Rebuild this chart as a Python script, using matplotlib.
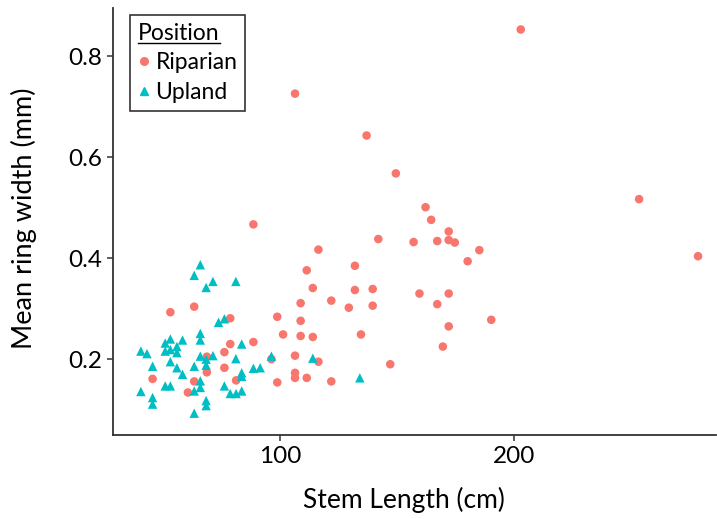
import matplotlib
matplotlib.use("Agg")
import matplotlib.pyplot as plt
from matplotlib.lines import Line2D

plt.rcParams['font.family'] = ['Lato', 'DejaVu Sans']

# Riparian stems: length (cm), mean ring width (mm)
rip_x = [202.9, 106.4, 137.0, 149.5, 253.5, 162.2, 164.6, 172.1, 172.1, 174.7,
         167.2, 157.1, 142.0, 185.2, 180.2, 278.7, 116.4, 88.6, 111.4, 132.0,
         114.0, 132.0, 139.6, 159.6, 172.1, 121.9, 108.8, 129.4, 139.6, 167.2,
         98.8, 108.8, 190.3, 172.1, 101.3, 108.8, 114.0, 134.6, 88.6, 169.6,
         106.4, 96.3, 116.4, 147.1, 106.4, 106.4, 111.4, 98.8, 121.9,
         53.1, 63.3, 78.7, 78.7, 76.2, 68.7, 76.2, 68.7, 45.5, 63.3, 81.2, 60.6]
rip_y = [0.853, 0.726, 0.643, 0.568, 0.517, 0.501, 0.476, 0.453, 0.436, 0.431,
         0.434, 0.432, 0.438, 0.416, 0.394, 0.404, 0.417, 0.467, 0.376, 0.385,
         0.341, 0.337, 0.339, 0.330, 0.330, 0.316, 0.311, 0.302, 0.306, 0.309,
         0.284, 0.276, 0.278, 0.265, 0.249, 0.246, 0.244, 0.249, 0.234, 0.225,
         0.207, 0.200, 0.195, 0.190, 0.173, 0.163, 0.163, 0.154, 0.156,
         0.293, 0.304, 0.281, 0.230, 0.214, 0.205, 0.183, 0.174, 0.161, 0.156, 0.158, 0.134]

# Upland stems
upl_x = [96.3, 114.0, 134.1, 88.6, 91.5,
         65.9, 63.3, 71.3, 68.4, 81.1, 73.7, 76.2, 65.9, 65.9, 53.1,
         50.9, 58.3, 55.9, 53.1, 50.9, 55.9, 40.5, 43.1, 45.5, 53.1,
         55.9, 58.3, 65.9, 71.3, 63.3, 68.4, 68.4, 83.6, 81.1, 83.6,
         83.6, 50.9, 53.1, 40.5, 45.5, 45.5, 63.3, 65.9, 65.9, 63.3,
         68.4, 68.4, 76.2, 78.7, 81.2, 83.6]
upl_y = [0.206, 0.202, 0.163, 0.182, 0.183,
         0.387, 0.366, 0.354, 0.342, 0.354, 0.273, 0.280, 0.251, 0.238, 0.240,
         0.232, 0.238, 0.225, 0.219, 0.216, 0.213, 0.216, 0.211, 0.186, 0.195,
         0.183, 0.170, 0.206, 0.207, 0.186, 0.200, 0.188, 0.230, 0.201, 0.173,
         0.166, 0.147, 0.147, 0.136, 0.124, 0.111, 0.137, 0.157, 0.144, 0.093,
         0.118, 0.108, 0.147, 0.132, 0.132, 0.137]

red = '#F8766D'
teal = '#00BFC4'

fig = plt.figure(figsize=(7.17, 5.19), dpi=100)
ax = fig.add_axes([0.158, 0.162, 0.841, 0.823])

ax.scatter(rip_x, rip_y, s=38, marker='o', color=red, edgecolors='none', label='Riparian')
ax.scatter(upl_x, upl_y, s=46, marker='^', color=teal, edgecolors='none', label='Upland')

ax.set_xlim(28.7, 286.5)
ax.set_ylim(0.05, 0.896)
ax.set_xticks([100, 200])
ax.set_yticks([0.2, 0.4, 0.6, 0.8])
ax.set_yticklabels(['0.2', '0.4', '0.6', '0.8'])

for s in ['top', 'right']:
    ax.spines[s].set_visible(False)
for s in ['left', 'bottom']:
    ax.spines[s].set_color('#333333')
    ax.spines[s].set_linewidth(1.3)
ax.tick_params(direction='out', length=4, width=1.1, color='#333333',
               labelsize=17.5, labelcolor='black', pad=4)

ax.set_xlabel('Stem Length (cm)', fontsize=19)
ax.set_ylabel('Mean ring width (mm)', fontsize=19.5)
ax.xaxis.set_label_coords(0.482, -0.122)
ax.yaxis.set_label_coords(-0.126, 0.507)

handles = [Line2D([], [], marker='o', ls='none', color=red, markersize=5.5),
           Line2D([], [], marker='^', ls='none', color=teal, markersize=5.5)]
leg = ax.legend(handles, ['Riparian', 'Upland'], title='Position',
                loc='upper left', bbox_to_anchor=(0.028, 0.984),
                fontsize=16.5, title_fontsize=16.5, frameon=True, fancybox=False,
                edgecolor='black', handlelength=0.5, handletextpad=0.25,
                borderpad=0.35, labelspacing=0.37, borderaxespad=0)
leg.get_frame().set_linewidth(1.2)
leg._legend_box.align = 'left'

# underline the legend title
fig.canvas.draw()
bb = leg.get_title().get_window_extent().transformed(fig.transFigure.inverted())
fig.add_artist(Line2D([bb.x0, bb.x1], [bb.y0 + 0.002, bb.y0 + 0.002],
                      transform=fig.transFigure, color='black', lw=1.0))

fig.savefig('out.png', dpi=100)
